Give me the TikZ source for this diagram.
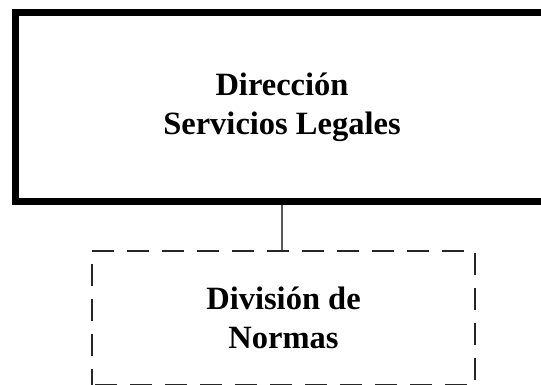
\documentclass[tikz,border=0pt]{standalone}
\usepackage{fontspec}
\setmainfont{Liberation Serif}
\begin{document}
\begin{tikzpicture}[x=1pt,y=-1pt,
  unitbox/.style={rectangle, inner sep=0pt, align=center,
    font=\bfseries\fontsize{32.5}{39}\selectfont},
  mainbox/.style={unitbox, draw=black, line width=7pt,
    minimum width=533pt, minimum height=189pt},
  dashbox/.style={unitbox, draw=black!85, line width=2.8pt,
    dash pattern=on 22pt off 13pt, dash phase=-3pt,
    minimum width=383pt, minimum height=134pt},
  link/.style={draw=black!65, line width=1.4pt}]
\useasboundingbox (0,0) rectangle (541,385);
\clip (0,0) rectangle (541,385);
\node[mainbox] (dir) at (282,107) {Dirección\\Servicios Legales};
\node[dashbox] (div) at (283.5,318) {División de\\Normas};
\draw[link] (dir.south) -- (div.north -| dir.south);
\end{tikzpicture}
\end{document}
